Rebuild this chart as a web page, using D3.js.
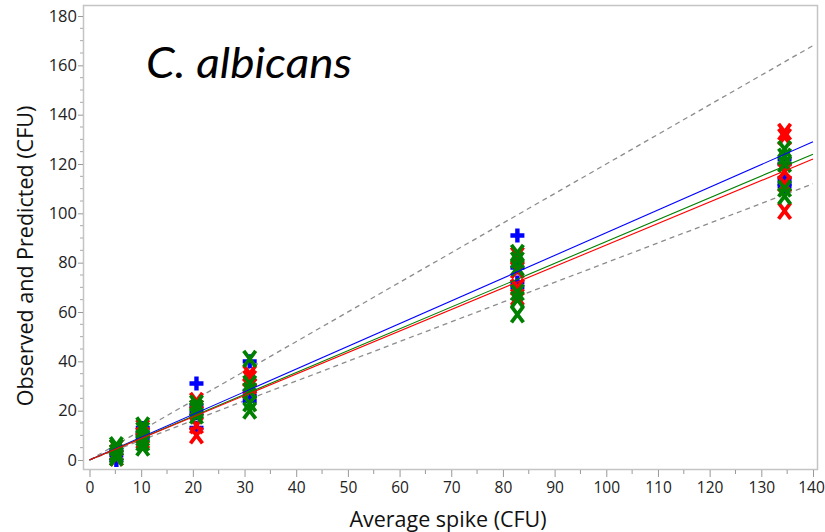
<!DOCTYPE html>
<html>
<head>
<meta charset="utf-8">
<script src="https://cdn.jsdelivr.net/npm/d3@7"></script>
<style>
  body { margin: 0; background: #fff; }
  svg { display: block; }
</style>
</head>
<body>
<div id="chart"></div>
<script>
// spike levels (x) and observed counts per group
var spikeLevels = [5.2, 10.3, 20.7, 31.0, 82.8, 134.5];
var blueObs  = [[4, 2, 0], [13, 11, 9], [31, 22, 19, 13], [40, 28, 26, 24], [91, 78, 72, 70], [122, 120, 114, 112, 111]];
var redObs   = [[5, 3, 1], [13, 10, 8], [24, 21, 14, 10], [35, 33, 30, 28], [83, 77, 70, 66], [133, 131, 117, 112, 101]];
var greenObs = [[6, 5, 3, 2, 1], [14, 12, 9, 7, 5], [23, 21, 20, 18], [41, 31, 28, 23, 20], [84, 81, 78, 68, 65, 59], [126, 123, 120, 110, 107]];

// fitted / limit lines, value at x = 0 and x = 140
var lineX      = [0, 140];
var blueFit    = [0, 129];
var greenFit   = [0, 124];
var redFit     = [0, 122];
var upperLimit = [0, 168];
var lowerLimit = [0, 112];

var xTicks = d3.range(0, 141, 10);
var yTicks = d3.range(0, 181, 20);

var W = 825, H = 532;
var frame = { left: 83, top: 5, right: 817, bottom: 469 };
var font = "'Open Sans', sans-serif";

var svg = d3.select("#chart").append("svg")
  .attr("width", W).attr("height", H);

var x = d3.scaleLinear().domain([0, 140]).range([89.5, 813]);
var y = d3.scaleLinear().domain([0, 180]).range([460, 16]);

// frame
svg.append("rect")
  .attr("x", frame.left + 0.5).attr("y", frame.top + 0.5)
  .attr("width", frame.right - frame.left).attr("height", frame.bottom - frame.top)
  .attr("fill", "none").attr("stroke", "#c4c4c4").attr("stroke-width", 1.5);

// x axis
var xAxis = svg.append("g").attr("transform", "translate(0," + (frame.bottom + 1) + ")");
xAxis.selectAll(".minor").data(d3.range(5, 141, 10)).enter().append("line")
  .attr("x1", d => x(d)).attr("x2", d => x(d)).attr("y1", 0).attr("y2", 4)
  .attr("stroke", "#999");
xAxis.call(d3.axisBottom(x).tickValues(xTicks).tickSize(7).tickPadding(5))
  .call(g => g.select(".domain").remove())
  .call(g => g.selectAll(".tick line").attr("stroke", "#999"))
  .call(g => g.selectAll(".tick text").attr("fill", "#222")
    .attr("font-family", font).attr("font-size", "15.5px"))
  .call(g => g.selectAll(".tick text").filter(d => d == 140).attr("dx", "-2px"));

// y axis
var yAxis = svg.append("g").attr("transform", "translate(" + (frame.left) + ",0)");
yAxis.selectAll(".minor").data(d3.range(5, 181, 5).filter(d => d % 20 != 0)).enter().append("line")
  .attr("x1", -3).attr("x2", 0).attr("y1", d => y(d)).attr("y2", d => y(d))
  .attr("stroke", "#aaa");
yAxis.call(d3.axisLeft(y).tickValues(yTicks).tickSize(5).tickPadding(1))
  .call(g => g.select(".domain").remove())
  .call(g => g.selectAll(".tick line").attr("stroke", "#999"))
  .call(g => g.selectAll(".tick text").attr("fill", "#222")
    .attr("font-family", font).attr("font-size", "16.5px"));

// axis titles
svg.append("text")
  .attr("x", 448).attr("y", 527)
  .attr("text-anchor", "middle")
  .attr("font-family", font).attr("font-size", "21.5px").attr("fill", "#111")
  .text("Average spike (CFU)");

svg.append("text")
  .attr("transform", "translate(33,256) rotate(-90)")
  .attr("text-anchor", "middle")
  .attr("font-family", font).attr("font-size", "21.5px").attr("fill", "#111")
  .text("Observed and Predicted (CFU)");

// title
svg.append("text")
  .attr("x", 146).attr("y", 78)
  .attr("font-family", "Lato, sans-serif").attr("font-style", "italic")
  .attr("font-size", "43px").attr("fill", "#000")
  .attr("textLength", 206).attr("lengthAdjust", "spacingAndGlyphs")
  .text("C. albicans");

// lines
var lineGen = d3.line().x(d => x(d[0])).y(d => y(d[1]));
function drawLine(vals, color, dash, width) {
  svg.append("path")
    .datum(lineX.map((v, i) => [v, vals[i]]))
    .attr("d", lineGen)
    .attr("fill", "none").attr("stroke", color)
    .attr("stroke-width", width)
    .attr("stroke-dasharray", dash);
}
drawLine(upperLimit, "#8c8c8c", "5,4", 1.3);
drawLine(lowerLimit, "#8c8c8c", "5,4", 1.3);

// markers
function flatten(obs) {
  var out = [];
  obs.forEach(function(list, i) {
    list.forEach(function(v) { out.push([spikeLevels[i], v]); });
  });
  return out;
}

svg.append("g").selectAll("path").data(flatten(blueObs)).enter().append("path")
  .attr("transform", d => "translate(" + x(d[0]) + "," + y(d[1]) + ")")
  .attr("d", "M-7,0H7M0,-7V7")
  .attr("stroke", "#0000ff").attr("stroke-width", 4.4).attr("fill", "none");

function drawX(obs, color) {
  svg.append("g").selectAll("path").data(flatten(obs)).enter().append("path")
    .attr("transform", d => "translate(" + x(d[0]) + "," + y(d[1]) + ")")
    .attr("d", "M-6,-8L6,8M6,-8L-6,8")
    .attr("stroke", color).attr("stroke-width", 3.8).attr("fill", "none");
}
drawX(redObs, "#ff0000");
drawX(greenObs, "#008000");

drawLine(blueFit, "#0000ff", null, 1.1);
drawLine(greenFit, "#008000", null, 1.1);
drawLine(redFit, "#ff0000", null, 1.1);
</script>
</body>
</html>
